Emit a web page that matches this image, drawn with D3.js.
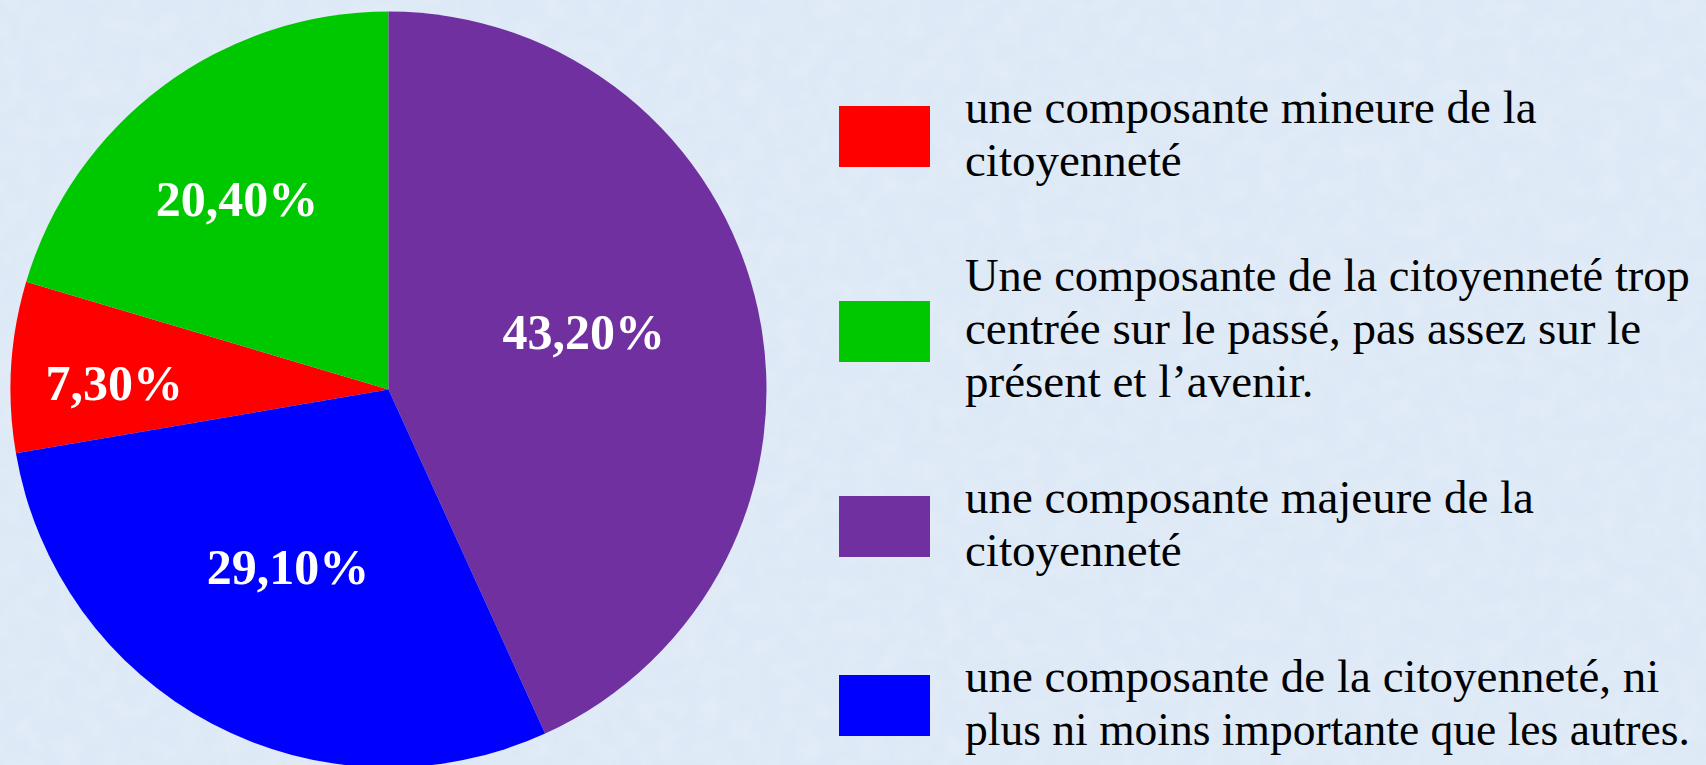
<!DOCTYPE html>
<html>
<head>
<meta charset="utf-8">
<script src="https://cdn.jsdelivr.net/npm/d3@7"></script>
<style>
  html, body { margin: 0; padding: 0; overflow: hidden; }
  body { width: 1706px; height: 765px; }
</style>
</head>
<body>
<svg id="chart" width="1706" height="765"></svg>
<script>
// donnees (ordre de la legende)
var categories = [
  ["une composante mineure de la", "citoyenneté"],
  ["Une composante de la citoyenneté trop", "centrée sur le passé, pas assez sur le", "présent et l’avenir."],
  ["une composante majeure de la", "citoyenneté"],
  ["une composante de la citoyenneté, ni", "plus ni moins importante que les autres."]
];
var values = [7.3, 20.4, 43.2, 29.1];
var valueLabels = ["7,30%", "20,40%", "43,20%", "29,10%"];
var colors = ["#ff0000", "#00c800", "#7030a0", "#0000ff"];

// reglages de mise en page des etiquettes
var labelRadius = [0.726, 0.644, 0.538, 0.54];
var labelNudge = [-2.1, -1.8, -3.9, 1.6]; // degres
var cx = 388.5, cy = 389.5, R = 378;

var svg = d3.select("#chart");

// fond texture bleu clair
var defs = svg.append("defs");
var f = defs.append("filter").attr("id", "grain")
  .attr("x", 0).attr("y", 0).attr("width", "100%").attr("height", "100%");
f.append("feTurbulence")
  .attr("type", "fractalNoise")
  .attr("baseFrequency", 0.05)
  .attr("numOctaves", 4)
  .attr("seed", 7);
f.append("feColorMatrix")
  .attr("type", "matrix")
  .attr("values", "0 0 0 0 0.76  0 0 0 0 0.84  0 0 0 0 0.93  0 0 0 2.0 -0.72");

svg.append("rect")
  .attr("width", 1706).attr("height", 765)
  .attr("fill", "#dde9f6");
svg.append("rect")
  .attr("width", 1706).attr("height", 765)
  .attr("filter", "url(#grain)");

// camembert : le violet commence a midi
var offset = (values[0] + values[1]) / d3.sum(values) * 2 * Math.PI;
var pie = d3.pie().sort(null)
  .startAngle(-offset)
  .endAngle(2 * Math.PI - offset);
var arcs = pie(values);

var arc = d3.arc().innerRadius(0).outerRadius(R);

var g = svg.append("g").attr("transform", "translate(" + cx + "," + cy + ")");

g.selectAll("path.slice")
  .data(arcs)
  .enter()
  .append("path")
  .attr("class", "slice")
  .attr("d", arc)
  .attr("fill", function(d, i){ return colors[i]; });

g.selectAll("text.val")
  .data(arcs)
  .enter()
  .append("text")
  .attr("class", "val")
  .attr("transform", function(d, i){
    var a = (d.startAngle + d.endAngle) / 2 + labelNudge[i] * Math.PI / 180;
    var r = R * labelRadius[i];
    return "translate(" + (Math.sin(a) * r) + "," + (-Math.cos(a) * r) + ")";
  })
  .attr("dy", "0.33em")
  .attr("text-anchor", "middle")
  .attr("font-family", "Liberation Serif, Times New Roman, serif")
  .attr("font-weight", "bold")
  .attr("font-size", 50)
  .attr("fill", "white")
  .text(function(d, i){ return valueLabels[i]; });

// legende
var swatchY = [106, 301, 496, 675];
var lineH = 53;
var textX = 965, maxW = 725, fontSize = 47;
var leg = svg.append("g");

for (var i = 0; i < categories.length; i++) {
  leg.append("rect")
    .attr("x", 839)
    .attr("y", swatchY[i])
    .attr("width", 91)
    .attr("height", 61)
    .attr("fill", colors[i]);

  var mid = swatchY[i] + 30.5;
  var n = categories[i].length;
  for (var k = 0; k < n; k++) {
    var t = leg.append("text")
      .attr("x", textX)
      .attr("y", mid - (n - 1) / 2 * lineH + 12.5 + k * lineH)
      .attr("font-family", "Liberation Serif, Times New Roman, serif")
      .attr("font-size", fontSize)
      .attr("fill", "black")
      .text(categories[i][k]);
    // ligne trop longue : on reduit un peu la taille
    var w = t.node().getComputedTextLength();
    if (w > maxW) {
      t.attr("font-size", fontSize * maxW / w);
    }
  }
}
</script>
</body>
</html>
